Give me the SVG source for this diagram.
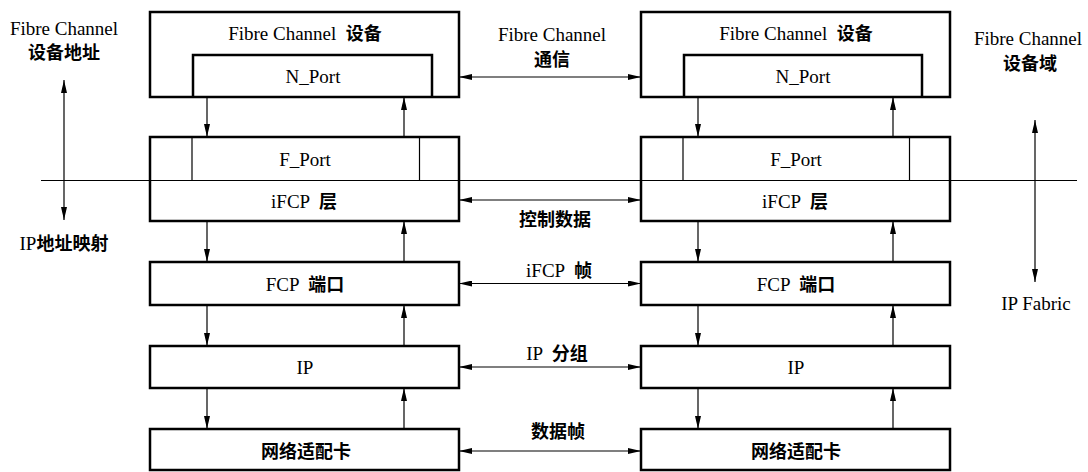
<svg xmlns="http://www.w3.org/2000/svg" width="1088" height="472" viewBox="0 0 1088 472">
<style>
.box{fill:#fff;stroke:#000;stroke-width:2.5}
.inner{fill:none;stroke:#000;stroke-width:2.5}
.thin{fill:none;stroke:#000;stroke-width:1.2}
.ln{fill:none;stroke:#000;stroke-width:1.2}
.arr{fill:none;stroke:#000;stroke-width:1.2;marker-end:url(#ah)}
.dbl{fill:none;stroke:#000;stroke-width:1.2;marker-start:url(#ah);marker-end:url(#ah)}
text{font-family:"Liberation Serif","Noto Sans CJK SC",serif;font-size:19px;fill:#000;text-anchor:middle;white-space:pre}
.cj{font-family:"Noto Sans CJK SC",sans-serif;font-weight:bold;font-size:18px}
</style>
<defs>
<marker id="ah" markerUnits="userSpaceOnUse" markerWidth="13" markerHeight="6" refX="13" refY="3" orient="auto-start-reverse">
<path d="M0,0 L13,3 L0,6 z" fill="#000"/>
</marker>
</defs>
<g id="divider">
<line class="ln" x1="41" y1="180.5" x2="1077" y2="180.5"/>
</g>
<g id="left-fc-device">
<rect class="box" x="150" y="12" width="309" height="85"/>
<path class="inner" d="M193,97 V55 H432 V97"/>
<text x="305" y="40" xml:space="preserve">Fibre Channel  <tspan class="cj">设备</tspan></text>
<text x="313" y="83">N_Port</text>
</g>
<g id="right-fc-device">
<rect class="box" x="641" y="12" width="309" height="85"/>
<path class="inner" d="M684,97 V55 H922 V97"/>
<text x="796" y="40" xml:space="preserve">Fibre Channel  <tspan class="cj">设备</tspan></text>
<text x="803" y="83">N_Port</text>
</g>
<g id="left-ifcp">
<rect class="box" x="150" y="137" width="309" height="84" style="fill:none"/>
<line class="thin" x1="192" y1="137" x2="192" y2="180.5"/>
<line class="thin" x1="419.5" y1="137" x2="419.5" y2="180.5"/>
<text x="305" y="166">F_Port</text>
<text x="304" y="208" xml:space="preserve">iFCP  <tspan class="cj">层</tspan></text>
</g>
<g id="right-ifcp">
<rect class="box" x="641" y="137" width="309" height="84" style="fill:none"/>
<line class="thin" x1="683" y1="137" x2="683" y2="180.5"/>
<line class="thin" x1="909.5" y1="137" x2="909.5" y2="180.5"/>
<text x="796" y="166">F_Port</text>
<text x="795" y="208" xml:space="preserve">iFCP  <tspan class="cj">层</tspan></text>
</g>
<g id="left-fcp">
<rect class="box" x="150" y="262" width="309" height="43"/>
<text x="305" y="291" xml:space="preserve">FCP  <tspan class="cj">端口</tspan></text>
</g>
<g id="right-fcp">
<rect class="box" x="641" y="262" width="309" height="43"/>
<text x="796" y="291" xml:space="preserve">FCP  <tspan class="cj">端口</tspan></text>
</g>
<g id="left-ip">
<rect class="box" x="150" y="346" width="309" height="42"/>
<text x="305" y="374">IP</text>
</g>
<g id="right-ip">
<rect class="box" x="641" y="346" width="309" height="42"/>
<text x="796" y="374">IP</text>
</g>
<g id="left-nic">
<rect class="box" x="150" y="429" width="309" height="41"/>
<text x="306" y="458" class="cj">网络适配卡</text>
</g>
<g id="right-nic">
<rect class="box" x="641" y="429" width="309" height="41"/>
<text x="796" y="458" class="cj">网络适配卡</text>
</g>
<g id="side-labels">
<text x="64" y="35">Fibre Channel</text>
<text x="64" y="58.5" class="cj">设备地址</text>
<text x="64" y="250">IP<tspan class="cj">地址映射</tspan></text>
<text x="1028" y="45">Fibre Channel</text>
<text x="1030" y="69.5" class="cj">设备域</text>
<text x="1036" y="310">IP Fabric</text>
</g>
<g id="link-labels">
<text x="552" y="41">Fibre Channel</text>
<text x="552" y="65.5" class="cj">通信</text>
<text x="555" y="226" class="cj">控制数据</text>
<text x="559" y="277" xml:space="preserve">iFCP  <tspan class="cj">帧</tspan></text>
<text x="557" y="360" xml:space="preserve">IP  <tspan class="cj">分组</tspan></text>
<text x="558" y="438" class="cj">数据帧</text>
</g>
<g id="connectors">
<line class="dbl" x1="64" y1="80" x2="64" y2="220"/>
<line class="dbl" x1="1035" y1="120" x2="1035" y2="282"/>
<line class="dbl" x1="459" y1="77" x2="641" y2="77"/>
<line class="dbl" x1="459" y1="200" x2="641" y2="200"/>
<line class="dbl" x1="459" y1="283.5" x2="641" y2="283.5"/>
<line class="dbl" x1="459" y1="367" x2="641" y2="367"/>
<line class="dbl" x1="459" y1="451" x2="641" y2="451"/>
<line class="arr" x1="207" y1="97" x2="207" y2="137"/>
<line class="arr" x1="404" y1="137" x2="404" y2="97"/>
<line class="arr" x1="207" y1="221" x2="207" y2="262"/>
<line class="arr" x1="404" y1="262" x2="404" y2="221"/>
<line class="arr" x1="207" y1="305" x2="207" y2="346"/>
<line class="arr" x1="404" y1="346" x2="404" y2="305"/>
<line class="arr" x1="207" y1="388" x2="207" y2="429"/>
<line class="arr" x1="404" y1="429" x2="404" y2="388"/>
<line class="arr" x1="698" y1="97" x2="698" y2="137"/>
<line class="arr" x1="893" y1="137" x2="893" y2="97"/>
<line class="arr" x1="698" y1="221" x2="698" y2="262"/>
<line class="arr" x1="893" y1="262" x2="893" y2="221"/>
<line class="arr" x1="698" y1="305" x2="698" y2="346"/>
<line class="arr" x1="893" y1="346" x2="893" y2="305"/>
<line class="arr" x1="698" y1="388" x2="698" y2="429"/>
<line class="arr" x1="893" y1="429" x2="893" y2="388"/>
</g>
</svg>
